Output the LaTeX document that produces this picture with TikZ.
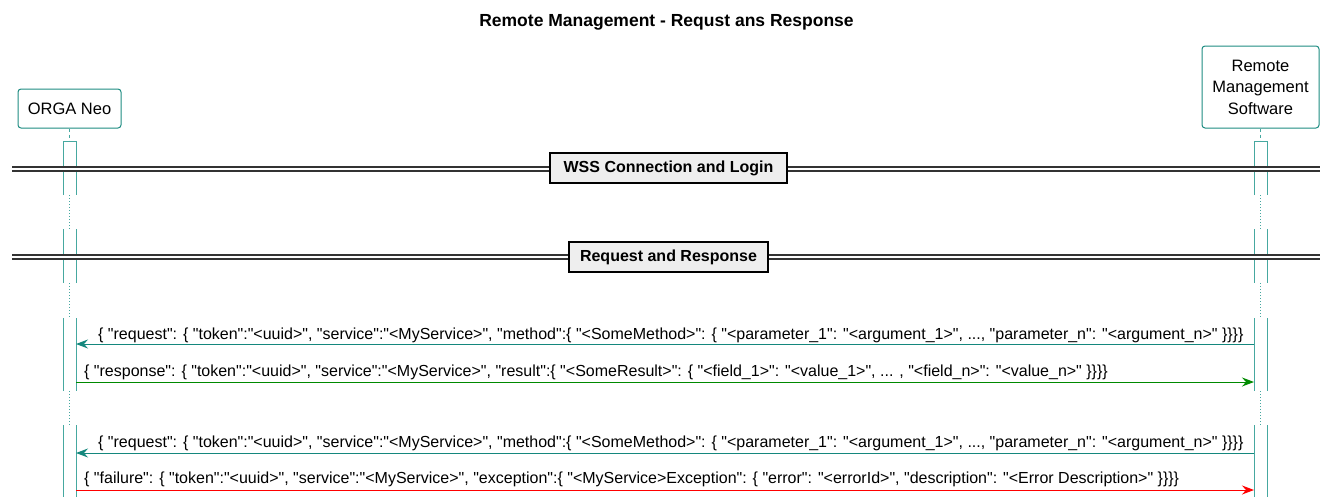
\documentclass[tikz,border=0pt]{standalone}
\usepackage{fontspec}
\setmainfont{Liberation Sans}[Ligatures=TeXOff]
\usetikzlibrary{arrows.meta, positioning}
\definecolor{boxteal}{RGB}{30, 140, 130}
\definecolor{lifeteal}{RGB}{70, 168, 160}
\definecolor{reqteal}{RGB}{20, 135, 125}
\definecolor{respgreen}{RGB}{0, 138, 0}
\definecolor{failred}{RGB}{255, 0, 0}
\definecolor{sepgray}{RGB}{238, 238, 238}

\begin{document}
\begin{tikzpicture}[x=1pt, y=-1pt,
    participant/.style={draw=boxteal, line width=1pt, rounded corners=3pt, fill=white, inner sep=0pt,
                        align=center, font=\fontsize{16.5}{21.5}\selectfont},
    bar/.style={draw=lifeteal, line width=1pt},
    delay/.style={draw=lifeteal, line width=1pt, dotted},
    lifeline/.style={draw=lifeteal, line width=1pt, dashed},
    divider/.style={draw=black!80, double=white, line width=1.8pt, double distance=2.2pt},
    sepbox/.style={draw=black, line width=1.6pt, fill=sepgray, inner sep=0pt,
                   minimum height=30pt, font=\fontsize{16}{18}\selectfont\bfseries},
    msg/.style={line width=1pt, -{Stealth[length=12pt, width=9pt, inset=4pt]}, draw=#1},
    msgtext/.style={anchor=base west, inner sep=0pt, font=\fontsize{16}{18}\selectfont}
]
    \useasboundingbox (0,0) rectangle (1330,496);
    \node[font=\fontsize{17.5}{20}\selectfont\bfseries] (title) at (666.5,22) {Remote Management - Requst ans Response};

    \node[participant, minimum width=103pt, minimum height=39pt] (orga) at (69.5,108.5) {ORGA Neo};
    \node[participant, minimum width=117pt, minimum height=82pt] (rms) at (1260.5,87) {Remote\\Management\\Software};

    \coordinate (orgatop) at (69.5,141);
    \coordinate (rmstop) at (1260.5,141);
    \draw[lifeline] (orga.south) -- (orgatop);
    \draw[lifeline] (rms.south) -- (rmstop);

    \foreach \xc in {69.5, 1260.5} {
        \draw[bar] (\xc-6.5,195) |- (\xc+6.5,141) -- (\xc+6.5,195);
        \foreach \ya/\yb in {229/283, 318/391, 425/500}
            \draw[bar] (\xc-6.5,\ya) -- (\xc-6.5,\yb) (\xc+6.5,\ya) -- (\xc+6.5,\yb);
        \foreach \ya/\yb in {195/229, 283/318, 391/425}
            \draw[delay] (\xc,\ya) -- (\xc,\yb);
    }

    \draw[divider] (12,169) -- (1320,169);
    \node[sepbox, minimum width=237pt] (wss) at (668.5,168) {WSS Connection and Login};
    \draw[divider] (12,257) -- (1320,257);
    \node[sepbox, minimum width=199pt] (reqres) at (668.5,257) {Request and Response};

    \coordinate (orga1) at (76,344);  \coordinate (rms1) at (1254,344);
    \coordinate (orga2) at (76,382);  \coordinate (rms2) at (1254,382);
    \coordinate (orga3) at (76,453);  \coordinate (rms3) at (1254,453);
    \coordinate (orga4) at (76,490);  \coordinate (rms4) at (1254,490);

    \draw[msg=reqteal] (rms1) -- (orga1);
    \node[msgtext] (req1) at (98,339) {\{ "request": \{ "token":"<uuid>", "service":"<MyService>", "method":\{ "<SomeMethod>": \{ "<parameter\_1": "<argument\_1>", ..., "parameter\_n": "<argument\_n>" \}\}\}\}};
    \draw[msg=respgreen] (orga2) -- (rms2);
    \node[msgtext] (resp) at (84,376) {\{ "response": \{ "token":"<uuid>", "service":"<MyService>", "result":\{ "<SomeResult>": \{ "<field\_1>": "<value\_1>", ... , "<field\_n>": "<value\_n>" \}\}\}\}};
    \draw[msg=reqteal] (rms3) -- (orga3);
    \node[msgtext] (req2) at (98,447) {\{ "request": \{ "token":"<uuid>", "service":"<MyService>", "method":\{ "<SomeMethod>": \{ "<parameter\_1": "<argument\_1>", ..., "parameter\_n": "<argument\_n>" \}\}\}\}};
    \draw[msg=failred] (orga4) -- (rms4);
    \node[msgtext] (fail) at (84,483) {\{ "failure": \{ "token":"<uuid>", "service":"<MyService>", "exception":\{ "<MyService>Exception": \{ "error": "<errorId>", "description": "<Error Description>" \}\}\}\}};
\end{tikzpicture}
\end{document}
